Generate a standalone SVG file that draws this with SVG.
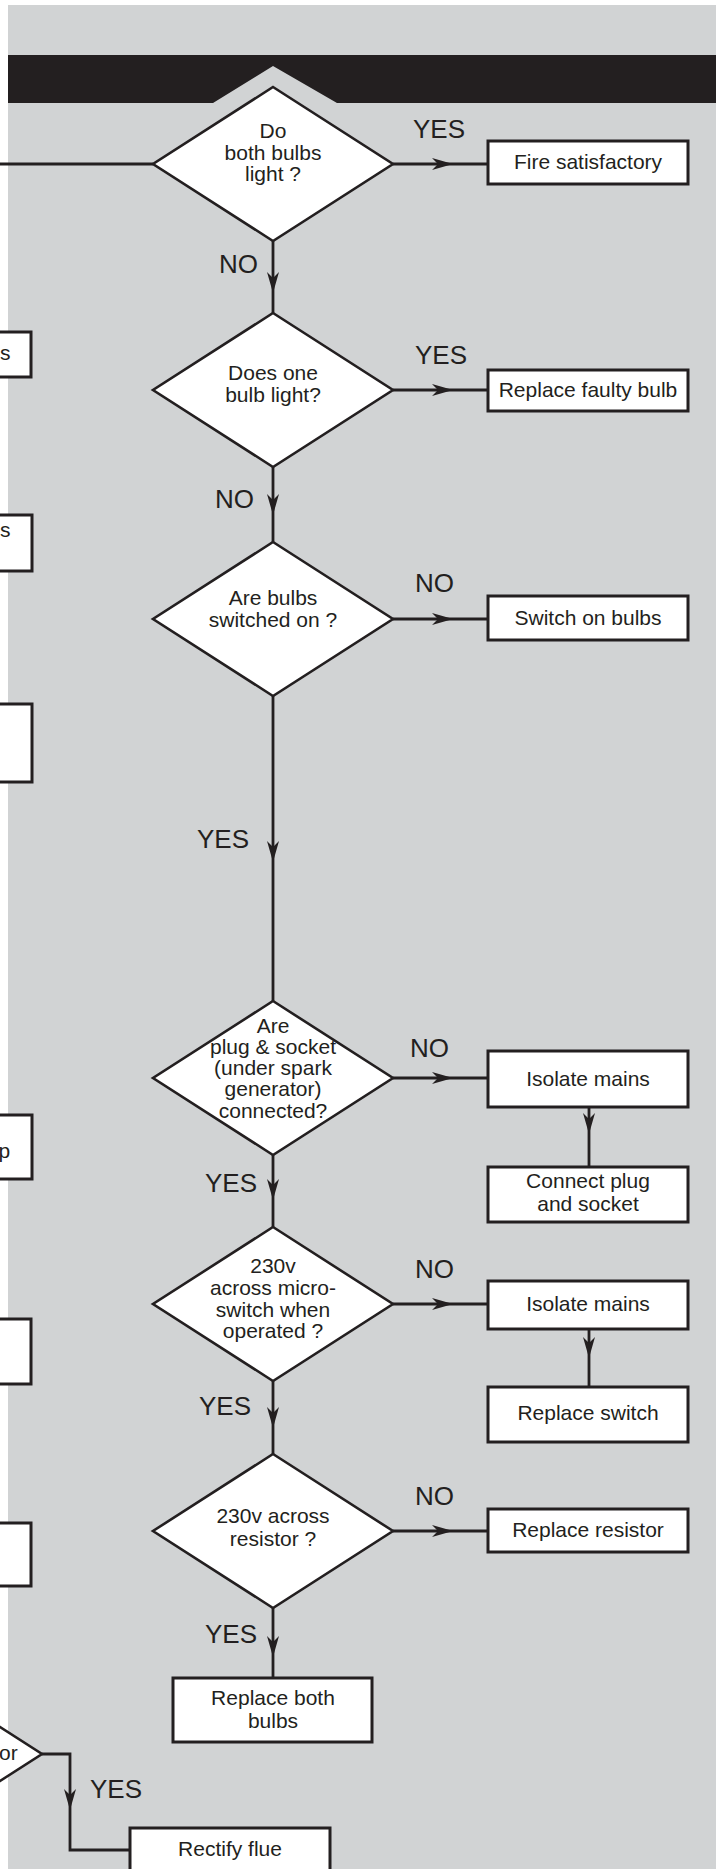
<svg xmlns="http://www.w3.org/2000/svg" xmlns:xlink="http://www.w3.org/1999/xlink" width="716" height="1869" viewBox="0 0 716 1869">
<defs>
<style>
.dia{fill:#ffffff;stroke:#231f20;stroke-width:2.6;stroke-linejoin:miter}
.box{fill:#ffffff;stroke:#231f20;stroke-width:3}
.ln{fill:none;stroke:#231f20;stroke-width:2.8}
.t{font-family:"Liberation Sans",Arial,Helvetica,sans-serif;font-size:21px;fill:#231f20;text-anchor:middle}
.tl{font-family:"Liberation Sans",Arial,Helvetica,sans-serif;font-size:21px;fill:#231f20}
.lab{font-family:"Liberation Sans",Arial,Helvetica,sans-serif;font-size:26px;fill:#231f20}
.labe{font-family:"Liberation Sans",Arial,Helvetica,sans-serif;font-size:26px;fill:#231f20;text-anchor:end}
</style>
<path id="ah" d="M0,0 L-21,-6 L-15,0 L-21,6 Z" fill="#231f20"/>
</defs>
<rect x="0" y="0" width="716" height="1869" fill="#ffffff"/>
<rect x="8" y="5" width="708" height="1864" fill="#d1d3d4"/>
<polygon points="8,55 716,55 716,103 337,103 273,66 213,103 8,103" fill="#231f20"/>

<g id="connectors">
<line class="ln" x1="0" y1="164" x2="153" y2="164"/>
<line class="ln" x1="393" y1="164" x2="488" y2="164"/>
<use xlink:href="#ah" transform="translate(453,164)"/>
<line class="ln" x1="273" y1="241" x2="273" y2="313"/>
<use xlink:href="#ah" transform="translate(273,293) rotate(90)"/>
<line class="ln" x1="393" y1="390" x2="488" y2="390"/>
<use xlink:href="#ah" transform="translate(453,390)"/>
<line class="ln" x1="273" y1="467" x2="273" y2="542"/>
<use xlink:href="#ah" transform="translate(273,515) rotate(90)"/>
<line class="ln" x1="393" y1="619" x2="488" y2="619"/>
<use xlink:href="#ah" transform="translate(453,619)"/>
<line class="ln" x1="273" y1="696" x2="273" y2="1001"/>
<use xlink:href="#ah" transform="translate(273,862) rotate(90)"/>
<line class="ln" x1="393" y1="1078" x2="488" y2="1078"/>
<use xlink:href="#ah" transform="translate(453,1078)"/>
<line class="ln" x1="589" y1="1108" x2="589" y2="1166"/>
<use xlink:href="#ah" transform="translate(589,1134) rotate(90)"/>
<line class="ln" x1="273" y1="1155" x2="273" y2="1227"/>
<use xlink:href="#ah" transform="translate(273,1200) rotate(90)"/>
<line class="ln" x1="393" y1="1304" x2="488" y2="1304"/>
<use xlink:href="#ah" transform="translate(453,1304)"/>
<line class="ln" x1="589" y1="1330" x2="589" y2="1386"/>
<use xlink:href="#ah" transform="translate(589,1358) rotate(90)"/>
<line class="ln" x1="273" y1="1381" x2="273" y2="1454"/>
<use xlink:href="#ah" transform="translate(273,1428) rotate(90)"/>
<line class="ln" x1="393" y1="1531" x2="488" y2="1531"/>
<use xlink:href="#ah" transform="translate(453,1531)"/>
<line class="ln" x1="273" y1="1608" x2="273" y2="1677"/>
<use xlink:href="#ah" transform="translate(273,1657) rotate(90)"/>
<polyline class="ln" points="42,1754 70,1754 70,1850 129,1850"/>
<use xlink:href="#ah" transform="translate(70,1810) rotate(90)"/>
</g>

<g id="labels">
<text class="lab" x="413" y="138">YES</text>
<text class="labe" x="258" y="273">NO</text>
<text class="lab" x="415" y="364">YES</text>
<text class="labe" x="254" y="508">NO</text>
<text class="lab" x="415" y="592">NO</text>
<text class="labe" x="249" y="848">YES</text>
<text class="lab" x="410" y="1057">NO</text>
<text class="labe" x="257" y="1192">YES</text>
<text class="lab" x="415" y="1278">NO</text>
<text class="labe" x="251" y="1415">YES</text>
<text class="lab" x="415" y="1505">NO</text>
<text class="labe" x="257" y="1643">YES</text>
<text class="lab" x="90" y="1798">YES</text>
</g>

<g id="left-box-1"><rect class="box" x="-10" y="332" width="41" height="45"/><text class="tl" x="0" y="360">s</text></g>
<g id="left-box-2"><rect class="box" x="-10" y="515" width="42" height="56"/><text class="tl" x="0" y="537">s</text></g>
<g id="left-box-3"><rect class="box" x="-10" y="704" width="42" height="78"/></g>
<g id="left-box-4"><rect class="box" x="-10" y="1115" width="42" height="64"/><text class="tl" x="-1.5" y="1158">p</text></g>
<g id="left-box-5"><rect class="box" x="-10" y="1319" width="41" height="65"/></g>
<g id="left-box-6"><rect class="box" x="-10" y="1523" width="41" height="63"/></g>
<g id="left-diamond"><polygon class="dia" points="-78,1677 42,1754 -78,1831 -198,1754"/><text class="tl" x="-1" y="1760">or</text></g>

<g id="d1"><polygon class="dia" points="273,87 393,164 273,241 153,164"/>
<text class="t" x="273" y="138">Do</text><text class="t" x="273" y="160">both bulbs</text><text class="t" x="273" y="181">light ?</text></g>
<g id="fire-satisfactory"><rect class="box" x="488" y="141" width="200" height="43"/><text class="t" x="588" y="169">Fire satisfactory</text></g>

<g id="d2"><polygon class="dia" points="273,313 393,390 273,467 153,390"/>
<text class="t" x="273" y="380">Does one</text><text class="t" x="273" y="402">bulb light?</text></g>
<g id="replace-faulty-bulb"><rect class="box" x="488" y="370" width="200" height="41"/><text class="t" x="588" y="397">Replace faulty bulb</text></g>

<g id="d3"><polygon class="dia" points="273,542 393,619 273,696 153,619"/>
<text class="t" x="273" y="605">Are bulbs</text><text class="t" x="273" y="627">switched on ?</text></g>
<g id="switch-on-bulbs"><rect class="box" x="488" y="596" width="200" height="44"/><text class="t" x="588" y="625">Switch on bulbs</text></g>

<g id="d4"><polygon class="dia" points="273,1001 393,1078 273,1155 153,1078"/>
<text class="t" x="273" y="1033">Are</text><text class="t" x="273" y="1054">plug &amp; socket</text><text class="t" x="273" y="1075">(under spark</text><text class="t" x="273" y="1096">generator)</text><text class="t" x="273" y="1118">connected?</text></g>
<g id="isolate-mains-1"><rect class="box" x="488" y="1051" width="200" height="56"/><text class="t" x="588" y="1086">Isolate mains</text></g>
<g id="connect-plug"><rect class="box" x="488" y="1167" width="200" height="55"/><text class="t" x="588" y="1188">Connect plug</text><text class="t" x="588" y="1211">and socket</text></g>

<g id="d5"><polygon class="dia" points="273,1227 393,1304 273,1381 153,1304"/>
<text class="t" x="273" y="1273">230v</text><text class="t" x="273" y="1295">across micro-</text><text class="t" x="273" y="1317">switch when</text><text class="t" x="273" y="1338">operated ?</text></g>
<g id="isolate-mains-2"><rect class="box" x="488" y="1281" width="200" height="48"/><text class="t" x="588" y="1311">Isolate mains</text></g>
<g id="replace-switch"><rect class="box" x="488" y="1387" width="200" height="55"/><text class="t" x="588" y="1420">Replace switch</text></g>

<g id="d6"><polygon class="dia" points="273,1454 393,1531 273,1608 153,1531"/>
<text class="t" x="273" y="1523">230v across</text><text class="t" x="273" y="1546">resistor ?</text></g>
<g id="replace-resistor"><rect class="box" x="488" y="1509" width="200" height="43"/><text class="t" x="588" y="1537">Replace resistor</text></g>
<g id="replace-both-bulbs"><rect class="box" x="173" y="1678" width="199" height="64"/><text class="t" x="273" y="1705">Replace both</text><text class="t" x="273" y="1728">bulbs</text></g>
<g id="rectify-flue"><rect class="box" x="130" y="1828" width="200" height="60"/><text class="t" x="230" y="1856">Rectify flue</text></g>
</svg>
